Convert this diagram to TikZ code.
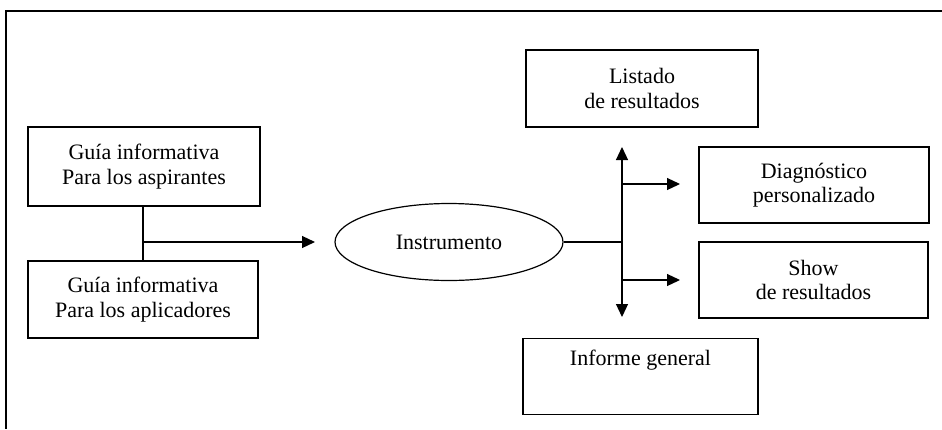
\documentclass[tikz,border=0pt]{standalone}
\usepackage{fontspec}
\setmainfont{Liberation Serif}
\usetikzlibrary{arrows.meta,shapes.geometric}
\begin{document}
\begin{tikzpicture}[x=1pt,y=-1pt,
  box/.style={draw,line width=1.2pt,minimum width=#1,align=center,inner sep=0pt},
  lbl/.style={font=\fontsize{22}{24.5}\selectfont},
  conn/.style={line width=1.2pt},
  arr/.style={line width=1.2pt,-{Triangle[length=13pt,width=12pt]}}]
\useasboundingbox (0,0) rectangle (942,429);
% frame
\draw[line width=1.6pt] (942,11) -- (6,11) -- (6,429);
% left boxes
\node[box=232pt,minimum height=79pt,lbl] (g1) at (144,166.5) {Guía informativa\\Para los aspirantes};
\node[box=230pt,minimum height=77pt,lbl] (g2) at (143,299.5) {Guía informativa\\Para los aplicadores};
\node[draw,ellipse,line width=1.2pt,minimum width=228pt,minimum height=77pt,inner sep=0pt,lbl] (ins) at (449,242) {Instrumento};
% right boxes
\node[box=232pt,minimum height=77pt,lbl] (lis) at (642,88.5) {Listado\\de resultados};
\node[box=230pt,minimum height=76pt,lbl] (dia) at (814,185) {Diagnóstico\\personalizado};
\node[box=229pt,minimum height=76pt,lbl] (sho) at (813.5,280) {Show\\de resultados};
\node[box=235pt,minimum height=76pt,anchor=north] (inf) at (640.5,338) {};
\node[lbl] (inft) at (640.5,360) {Informe general};
% coordinates
\coordinate (j1) at (143,242);
\coordinate (j2) at (622,242);
\coordinate (up) at (622,147);
\coordinate (dn) at (622,317);
\coordinate (a1) at (680,184);
\coordinate (a2) at (680,280);
\coordinate (b1) at (622,184);
\coordinate (b2) at (622,280);
\coordinate (tip) at (315,242);
% connectors
\draw[conn] (g1.south -| j1) -- (g2.north -| j1);
\draw[arr] (j1) -- (tip);
\draw[conn] (ins.east) -- (j2);
\draw[arr] (j2) -- (up);
\draw[arr] (j2) -- (dn);
\draw[arr] (b1) -- (a1);
\draw[arr] (b2) -- (a2);
\end{tikzpicture}
\end{document}
